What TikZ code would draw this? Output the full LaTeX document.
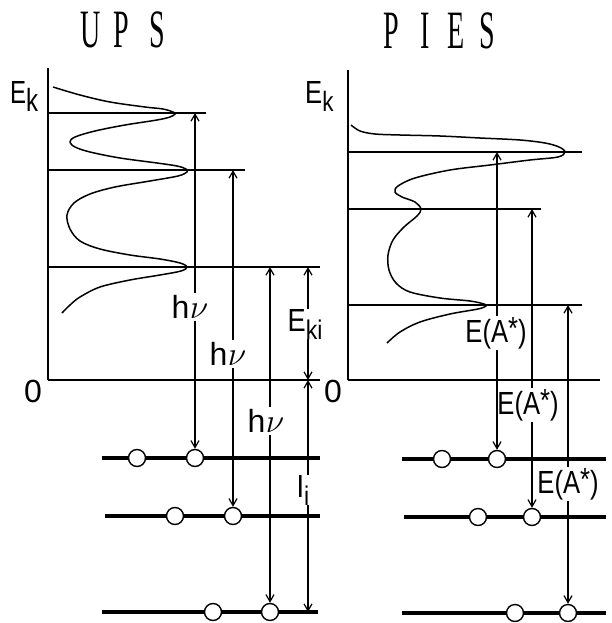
\documentclass[tikz,border=0pt]{standalone}
\usepackage{graphicx}
\usepackage{fontspec}
\setmainfont{Liberation Sans}
\newfontfamily\titlefont{Liberation Serif}
\usetikzlibrary{arrows.meta}
\begin{document}
\begin{tikzpicture}[x=1pt,y=-1pt,
  axisline/.style={line width=1.6pt},
  thinline/.style={line width=1.4pt},
  arr/.style={line width=1.3pt,-{Straight Barb[length=7pt,width=8pt,line width=1.2pt]}},
  levelline/.style={line width=3.4pt},
  curve/.style={line width=1.5pt},
  electron/.style={circle,draw,fill=white,line width=1.4pt,minimum size=17pt,inner sep=0pt},
  lab/.style={font=\fontsize{32}{32}\selectfont,inner sep=2pt},
  ttl/.style={font=\titlefont\fontsize{54}{54}\selectfont,inner sep=0pt,anchor=base west}]
\useasboundingbox (0,0) rectangle (612,623);

% ---------- titles ----------
\node[ttl] (tups) at (80,48) {\scalebox{0.52}[1]{\makebox[64pt][l]{U}\makebox[70pt][l]{P}S}};
\node[ttl] (tpies) at (383,49) {\scalebox{0.52}[1]{\makebox[71pt][l]{P}\makebox[52pt][l]{I}\makebox[63pt][l]{E}S}};

% ---------- UPS panel ----------
\coordinate (uaxt) at (48,68);
\coordinate (uaxb) at (48,380);
\coordinate (ul1e) at (206,113);
\coordinate (ul2e) at (245,170);
\coordinate (ul3e) at (320,267);
\coordinate (uz) at (320,380);
\draw[axisline] (uaxt) -- (uaxb);
\draw[thinline] (uaxb |- ul1e) -- (ul1e);
\draw[thinline] (uaxb |- ul2e) -- (ul2e);
\draw[thinline] (uaxb |- ul3e) -- (ul3e);
\draw[axisline] (uaxb) -- (uz);

\draw[curve] plot[smooth,tension=0.55] coordinates {
 (53,87) (80,95) (110,102) (145,107) (163,109) (173,112) (175,114) (170,117) (157,120)
 (125,125) (95,131) (75,137) (70,142) (75,147) (90,152) (120,158) (157,163) (177,166) (186,169)
 (187,172) (178,176) (150,181) (115,187) (90,194) (74,203) (67,215) (70,229) (80,241) (100,249)
 (130,255) (160,259) (180,263) (187,267) (181,271) (160,275) (130,280) (100,287) (80,297) (70,305) (62,313)};

\node[lab,anchor=base west,inner sep=0pt] (uek) at (10,103) {\scalebox{0.75}[1]{E\raisebox{-8pt}{k}}};
\node[lab] (uzero) at (33,391) {0};

% bottom levels
\coordinate (ub1s) at (102,458); \coordinate (ub1e) at (320,458);
\coordinate (ub2s) at (105,516); \coordinate (ub2e) at (320,516);
\coordinate (ub3s) at (102,612); \coordinate (ub3e) at (318,612);
\draw[levelline] (ub1s) -- (ub1e);
\draw[levelline] (ub2s) -- (ub2e);
\draw[levelline] (ub3s) -- (ub3e);
\node[electron] (ue11) at (137,458) {};
\node[electron] (ue12) at (195,458) {};
\node[electron] (ue21) at (175,516) {};
\node[electron] (ue22) at (233,516) {};
\node[electron] (ue31) at (213,612) {};
\node[electron] (ue32) at (270,612) {};

% photon arrows
\newcommand{\hnu}{h\kern0.5pt\scalebox{1.35}{$\nu$}}
\node[lab] (hv1) at (190,307) {\hnu};
\node[lab] (hv2) at (228,354) {\hnu};
\node[lab] (hv3) at (266,421) {\hnu};
\draw[arr] (hv1.north -| ue12) -- (ue12 |- ul1e);
\draw[arr] (hv1.south -| ue12) -- (ue12.north);
\draw[arr] (hv2.north -| ue22) -- (ue22 |- ul2e);
\draw[arr] (hv2.south -| ue22) -- (ue22.north);
\draw[arr] (hv3.north -| ue32) -- (ue32 |- ul3e);
\draw[arr] (hv3.south -| ue32) -- (ue32.north);

% E_ki and I_i
\coordinate (ekt) at (308,267);
\coordinate (ekz) at (308,380);
\coordinate (ekb) at (308,612);
\node[lab,inner sep=0pt] (eki) at (305,324) {\scalebox{0.85}[1]{E\raisebox{-8pt}{\fontsize{27}{27}\selectfont ki}}};
\node[lab,inner sep=0pt] (ii) at (303,490) {\scalebox{0.85}[1]{I\raisebox{-8pt}{\fontsize{27}{27}\selectfont i}}};
\draw[arr] (eki.north -| ekt) -- (ekt);
\draw[arr] (eki.south -| ekt) -- (ekz);
\draw[arr] (ii.north -| ekt) -- (ekz);
\draw[arr] (ii.south -| ekt) -- (ekb);

% ---------- PIES panel ----------
\coordinate (paxt) at (348,70);
\coordinate (paxb) at (348,380);
\coordinate (pl1e) at (582,152);
\coordinate (pl2e) at (541,209);
\coordinate (pl3e) at (582,305);
\coordinate (pz) at (600,380);
\draw[axisline] (paxt) -- (paxb);
\draw[thinline] (paxb |- pl1e) -- (pl1e);
\draw[thinline] (paxb |- pl2e) -- (pl2e);
\draw[thinline] (paxb |- pl3e) -- (pl3e);
\draw[axisline] (paxb) -- (pz);

\draw[curve] plot[smooth,tension=0.55] coordinates {
 (351,125) (360,131) (375,134) (400,135) (440,136) (480,138) (520,140) (545,143) (559,147) (565,152)
 (558,157) (530,160) (490,165) (450,170) (415,178) (398,186) (395,192) (402,197) (415,202) (421,209)
 (417,216) (404,227) (393,240) (388,255) (389,270) (396,283) (410,292) (440,298) (470,301) (484,304)
 (486,306) (478,309) (450,314) (420,322) (400,332) (387,343)};

\node[lab,anchor=base west,inner sep=0pt] (pek) at (305,103) {\scalebox{0.8}[1]{E\raisebox{-8pt}{\fontsize{28}{28}\selectfont k}}};
\node[lab] (pzero) at (333,391) {0};

% bottom levels
\coordinate (pb1s) at (402,459); \coordinate (pb1e) at (606,459);
\coordinate (pb2s) at (404,517); \coordinate (pb2e) at (606,517);
\coordinate (pb3s) at (402,613); \coordinate (pb3e) at (606,613);
\draw[levelline] (pb1s) -- (pb1e);
\draw[levelline] (pb2s) -- (pb2e);
\draw[levelline] (pb3s) -- (pb3e);
\node[electron] (pe11) at (442,459) {};
\node[electron] (pe12) at (497,459) {};
\node[electron] (pe21) at (478,517) {};
\node[electron] (pe22) at (532,517) {};
\node[electron] (pe31) at (515,613) {};
\node[electron] (pe32) at (568,613) {};

\newcommand{\eastar}{\scalebox{0.8}[1]{E(A\raisebox{3pt}{\fontsize{32}{32}\selectfont *})}}
\node[lab,inner sep=1pt] (ea1) at (496,333) {\eastar};
\node[lab,inner sep=1pt] (ea2) at (528,405) {\eastar};
\node[lab,inner sep=1pt] (ea3) at (568,484) {\eastar};
\draw[arr] (ea1.north -| pe12) -- (pe12 |- pl1e);
\draw[arr] (ea1.south -| pe12) -- (pe12.north);
\draw[arr] (ea2.north -| pe22) -- (pe22 |- pl2e);
\draw[arr] (ea2.south -| pe22) -- (pe22.north);
\draw[arr] (ea3.north -| pe32) -- (pe32 |- pl3e);
\draw[arr] (ea3.south -| pe32) -- (pe32.north);
\end{tikzpicture}
\end{document}
